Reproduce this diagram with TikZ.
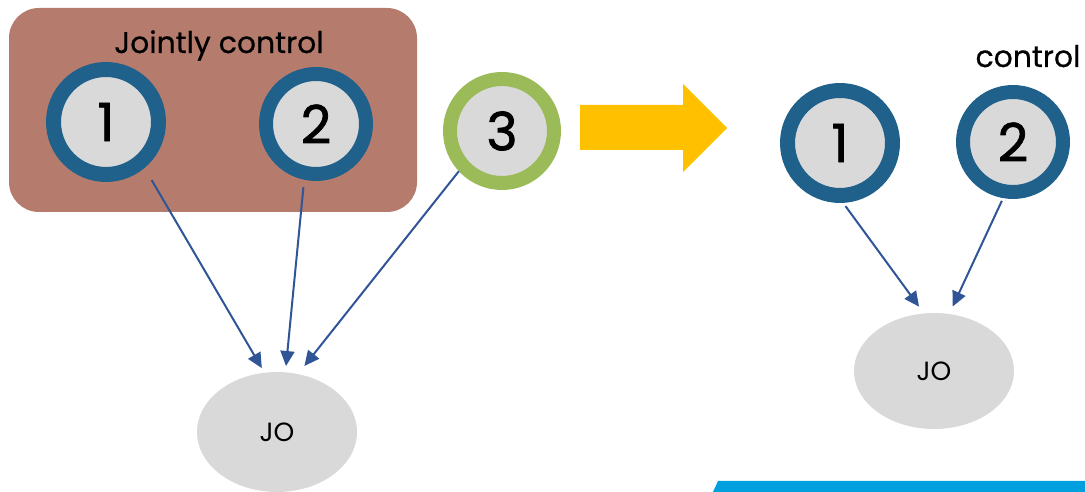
\documentclass[tikz,border=0pt]{standalone}
\usepackage{fontspec}
\setmainfont{Poppins}
\newfontfamily\digitfont{Poppins}[FakeBold=1.4]
\newfontfamily\captionfont{Poppins}[FakeBold=0.6]
\usetikzlibrary{arrows.meta,shapes.geometric}

\definecolor{boxbrown}{HTML}{B57B6C}
\definecolor{ringblue}{HTML}{1F618A}
\definecolor{ringgreen}{HTML}{9BBB59}
\definecolor{fillgray}{HTML}{D9D9D9}
\definecolor{linkblue}{HTML}{2F5597}
\definecolor{shiftyellow}{HTML}{FFC000}
\definecolor{barblue}{HTML}{00A0DF}

\begin{document}
\begin{tikzpicture}[x=0.02cm,y=-0.02cm,
  party/.style={circle,draw=ringblue,fill=fillgray,line width=0.3cm,minimum size=2.1cm,inner sep=0pt,
    font=\digitfont\fontsize{30}{30}\selectfont},
  partysmall/.style={party,line width=0.28cm,minimum size=2.0cm},
  venture/.style={ellipse,fill=fillgray,minimum width=3.2cm,minimum height=2.4cm,inner sep=0pt,
    font=\fontsize{15}{15}\selectfont},
  link/.style={draw=linkblue,line width=0.04cm,-{Triangle[length=0.3cm,width=0.28cm]}},
  caption/.style={anchor=base,inner sep=0pt,font=\captionfont\fontsize{17}{17}\selectfont}]

\useasboundingbox (0,0) rectangle (1085,492);
%
% before: 1 and 2 share control, 3 is outside
\fill[boxbrown,rounded corners=0.6cm] (9,8) rectangle (417,212);
\node[caption] (jc) at (219,53) {Jointly control};
\node[party] (l1) at (106,122) {1};
\node[partysmall] (l2) at (316,124) {2};
\node[partysmall,draw=ringgreen,minimum size=2.08cm] (l3) at (502,131) {3};
\node[venture] (ljo) at (277,432) {JO};
\draw[link,shorten <=0.28cm,shorten >=0.1cm] (l1.-50) -- (ljo.102);
\draw[link,shorten <=0.15cm,shorten >=0.12cm] (l2.-102) -- (ljo.82);
\draw[link,shorten >=0.2cm] (l3.-137) -- (ljo.70);
%
% the shift
\fill[shiftyellow] (580,105) -- (683,105) -- (683,84) -- (727,128) -- (683,172) -- (683,150) -- (580,150) -- cycle;
%
% after
\node[caption] (ct) at (1028,67) {control};
\node[party] (r1) at (840,143) {1};
\node[partysmall] (r2) at (1013,142) {2};
\node[venture,minimum height=2.32cm] (rjo) at (934,371) {JO};
\draw[link,shorten <=0.08cm,shorten >=0.16cm] (r1.-87) -- (rjo.100);
\draw[link,shorten <=0.06cm,shorten >=0.16cm] (r2.-100) -- (rjo.75);
%
\fill[barblue] (713,492) -- (718,481) -- (1085,481) -- (1085,492) -- cycle;
\end{tikzpicture}
\end{document}
